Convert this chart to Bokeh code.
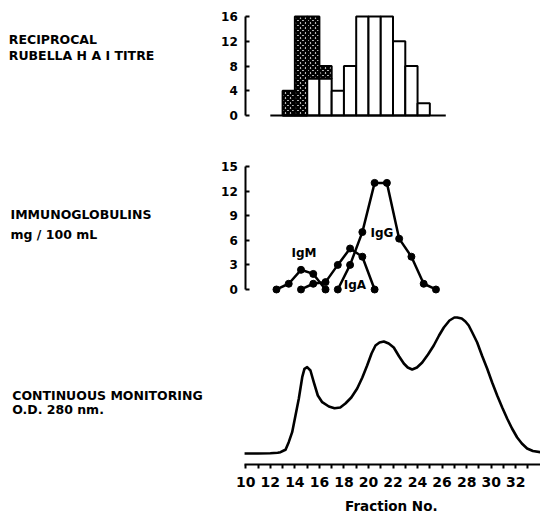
from bokeh.plotting import figure
from bokeh.models import Range1d, FixedTicker, Label, LinearAxis
from bokeh.embed import file_html
from bokeh.resources import INLINE

# ---------------- data ----------------
# Rubella HAI titre per fraction (bar spans fraction n .. n+1)
titre_fraction = [13, 14, 15, 16, 17, 18, 19, 20, 21, 22, 23, 24]
titre_total = [4, 16, 16, 8, 4, 8, 16, 16, 16, 12, 8, 2]      # full titre
titre_open = [0, 0, 6, 6, 4, 8, 16, 16, 16, 12, 8, 2]         # open (unshaded) part
titre_ticks = [0, 4, 8, 12, 16]
titre_baseline = [12, 26.3]

# Immunoglobulins mg/100 mL (points at fraction centres)
igm_fraction = [12, 13, 14, 15, 16]
igm_mg = [0, 0.7, 2.4, 1.9, 0]
iga_fraction = [14, 15, 16, 17, 18, 19, 20]
iga_mg = [0, 0.7, 0.9, 3.0, 5.0, 4.0, 0]
igg_fraction = [17, 18, 19, 20, 21, 22, 23, 24, 25]
igg_mg = [0, 3.0, 7.0, 13.0, 13.0, 6.2, 4.0, 0.7, 0]
ig_ticks = [0, 3, 6, 9, 12, 15]
ig_names = ["IgM", "IgA", "IgG"]
ig_label_x = [14.74, 18.9, 21.1]
ig_label_y = [4.39, 0.49, 6.91]

# Continuous monitoring O.D. 280 nm (relative units)
od_fraction = [9.9, 11.0, 12.0, 12.6, 12.83, 13.1, 13.24, 13.5, 13.78, 14.05, 14.32,
               14.6, 14.78, 15.0, 15.27, 15.54, 15.87, 16.23, 16.77, 17.23, 17.7,
               18.12, 18.6, 19.08, 19.5, 19.89, 20.25, 20.57, 20.9, 21.25, 21.65,
               22.06, 22.5, 22.88, 23.2, 23.56, 23.95, 24.38, 24.85, 25.32, 25.75,
               26.14, 26.6, 27.0, 27.23, 27.6, 27.9, 28.17, 28.5, 28.86, 29.25,
               29.67, 30.08, 30.49, 30.9, 31.3, 31.7, 32.12, 32.5, 32.93, 33.4, 34.0]
od_280 = [0.0, 0.0, 0.003, 0.008, 0.013, 0.03, 0.037, 0.113, 0.213, 0.38, 0.547,
          0.763, 0.847, 0.863, 0.83, 0.713, 0.58, 0.513, 0.47, 0.453, 0.46,
          0.50, 0.56, 0.65, 0.76, 0.88, 1.0, 1.08, 1.11, 1.12, 1.10,
          1.06, 0.97, 0.90, 0.86, 0.84, 0.86, 0.91, 0.99, 1.08, 1.18,
          1.26, 1.33, 1.36, 1.36, 1.35, 1.32, 1.28, 1.20, 1.11, 0.98,
          0.85, 0.71, 0.58, 0.46, 0.35, 0.25, 0.16, 0.10, 0.05, 0.025, 0.013]

fraction_ticks = [10, 12, 14, 16, 18, 20, 22, 24, 26, 28, 30, 32]
fraction_minor = [11, 13, 15, 17, 19, 21, 23, 25, 27, 29, 31, 33]
fraction_title = "Fraction No."

# ---------------- figure ----------------
FONT = "DejaVu Sans"
p = figure(width=540, height=515,
           x_range=Range1d(-9.992, 34.02), y_range=Range1d(-0.62, 4.53),
           min_border_left=0, min_border_right=0, min_border_top=0,
           min_border_bottom=0, y_axis_location=None, x_axis_location=None,
           toolbar_location=None, output_backend="svg")
p.extra_y_ranges = {"titre": Range1d(-64.646, 18.586), "ig": Range1d(-27.56, 35.24)}
p.grid.visible = False
p.outline_line_color = None
p.background_fill_color = "white"
p.border_fill_color = "white"


def make_yaxis(range_name, ticks):
    ax = LinearAxis(y_range_name=range_name, fixed_location=10,
                    ticker=FixedTicker(ticks=ticks), bounds=(ticks[0], ticks[-1]))
    ax.axis_line_width = 2
    ax.axis_line_color = "black"
    ax.major_tick_in = 4
    ax.major_tick_out = 0
    ax.major_tick_line_width = 2
    ax.major_tick_line_color = "black"
    ax.minor_tick_line_color = None
    ax.major_label_standoff = 8
    ax.major_label_text_font = FONT
    ax.major_label_text_font_style = "bold"
    ax.major_label_text_font_size = "12px"
    ax.major_label_text_color = "black"
    p.add_layout(ax, "left")


def side_label(x, y, text, range_name, size="12.5px", align="left"):
    p.add_layout(Label(x=x, y=y, text=text, y_range_name=range_name,
                       text_font=FONT, text_font_style="bold",
                       text_font_size=size, text_color="black",
                       text_align=align, text_baseline="alphabetic"))


# ---------------- panel 1: HAI titre ----------------
make_yaxis("titre", titre_ticks)
lefts = titre_fraction
rights = [f + 1 for f in titre_fraction]
p.quad(left=lefts, right=rights, bottom=[0] * len(titre_open), top=titre_open,
       y_range_name="titre", fill_color="white", line_color="black", line_width=2)
sh_l = [l for l, o, t in zip(lefts, titre_open, titre_total) if t > o]
sh_r = [r for r, o, t in zip(rights, titre_open, titre_total) if t > o]
sh_b = [o for o, t in zip(titre_open, titre_total) if t > o]
sh_t = [t for o, t in zip(titre_open, titre_total) if t > o]
p.quad(left=sh_l, right=sh_r, bottom=sh_b, top=sh_t, y_range_name="titre",
       fill_color="white", hatch_pattern="diagonal_cross", hatch_color="black",
       hatch_scale=5, hatch_weight=2.6, line_color="black", line_width=2)
p.line(x=titre_baseline, y=[0, 0], y_range_name="titre", line_color="black", line_width=2)

side_label(-9.316, 12.28, "RECIPROCAL", "titre")
side_label(-9.316, 9.75, "RUBELLA H A I TITRE", "titre")

# ---------------- panel 2: immunoglobulins ----------------
make_yaxis("ig", ig_ticks)
for fr, mg in ((igm_fraction, igm_mg), (iga_fraction, iga_mg), (igg_fraction, igg_mg)):
    xs = [f + 0.5 for f in fr]
    p.line(x=xs, y=mg, y_range_name="ig", line_color="black", line_width=2.5)
    p.scatter(x=xs, y=mg, y_range_name="ig", size=7, color="black")

for name, lx, ly in zip(ig_names, ig_label_x, ig_label_y):
    side_label(lx, ly, name, "ig", size="12px", align="center")

side_label(-9.177, 9.14, "IMMUNOGLOBULINS", "ig")
side_label(-9.177, 6.71, "mg / 100 mL", "ig")

# ---------------- panel 3: OD 280 ----------------
p.line(x=od_fraction, y=od_280, line_color="black", line_width=2.6, line_join="round")

ax = LinearAxis(fixed_location=-0.11,
                ticker=FixedTicker(ticks=fraction_ticks, minor_ticks=fraction_minor),
                bounds=(9.9, 34.02))
ax.axis_line_width = 2
ax.axis_line_color = "black"
ax.major_tick_in = 0
ax.major_tick_out = 4
ax.minor_tick_in = 0
ax.minor_tick_out = 4
ax.major_tick_line_width = 2
ax.minor_tick_line_width = 2
ax.major_tick_line_color = "black"
ax.minor_tick_line_color = "black"
ax.major_label_standoff = 8
ax.major_label_text_font = FONT
ax.major_label_text_font_style = "bold"
ax.major_label_text_font_size = "14px"
ax.major_label_text_color = "black"
p.add_layout(ax, "below")

side_label(21.86, -0.52, fraction_title, "default", size="13.5px", align="center")

side_label(-9.038, 0.583, "CONTINUOUS MONITORING", "default")
side_label(-9.038, 0.44, "O.D. 280 nm.", "default")

open("out.html", "w").write(file_html(p, INLINE))
